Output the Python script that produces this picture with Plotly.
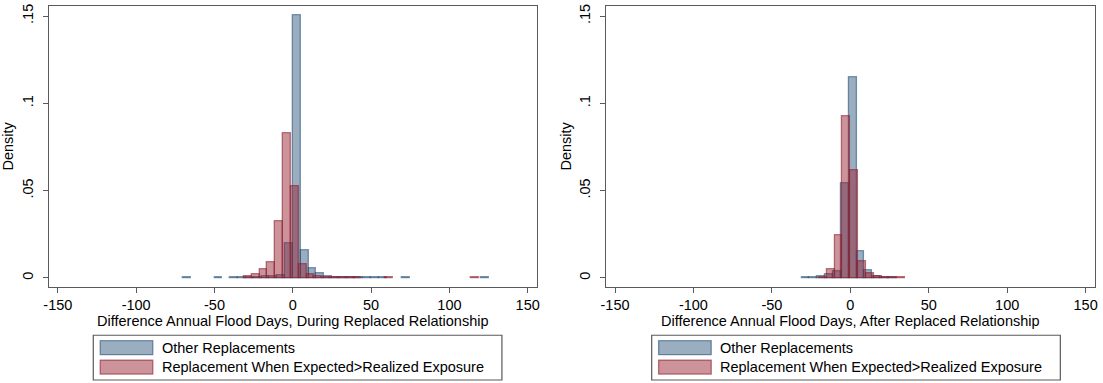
import plotly.graph_objects as go

# ---------------- data ----------------
BIN_W = 5.0

# Left panel: During replaced relationship
during_other_edges = [-70, -50, -40, -35, -30, -25, -20, -15, -10, -5, 0, 5, 10, 15, 20,
                      25, 30, 35, 40, 45, 50, 55, 70, 120]
during_other_dens = [0.0005, 0.0005, 0.0005, 0.0005, 0.0005, 0.0006, 0.0008, 0.0010, 0.0012,
                     0.0200, 0.1503, 0.0160, 0.0057, 0.0026, 0.0011, 0.0006, 0.0005, 0.0004,
                     0.0004, 0.0005, 0.0005, 0.0005, 0.0005, 0.0005]

during_exp_edges = [-31.25, -26.25, -21.25, -16.25, -11.25, -6.25, -1.25, 3.75, 8.75, 13.75,
                    18.75, 23.75, 28.75, 33.75, 38.75, 58.75, 113.75]
during_exp_dens = [0.0008, 0.0023, 0.0051, 0.0089, 0.0324, 0.0828, 0.0525, 0.0080, 0.0023,
                   0.0009, 0.0006, 0.0005, 0.0005, 0.0005, 0.0005, 0.0005, 0.0005]

# Right panel: After replaced relationship
after_other_edges = [-31, -26, -21, -16, -11, -6, -1, 4, 9, 14, 19, 24]
after_other_dens = [0.0004, 0.0004, 0.0008, 0.0023, 0.0040, 0.0541, 0.1150, 0.0150, 0.0042,
                    0.0010, 0.0005, 0.0004]

after_exp_edges = [-20, -15, -10, -5, 0, 5, 10, 15, 20, 25, 30]
after_exp_dens = [0.0006, 0.0051, 0.0245, 0.0925, 0.0619, 0.0097, 0.0025, 0.0008, 0.0004,
                  0.0004, 0.0004]

x_ticks = [-150, -100, -50, 0, 50, 100, 150]
x_ticktext = ["-150", "-100", "-50", "0", "50", "100", "150"]
y_ticks = [0, 0.05, 0.1, 0.15]
y_ticktext = ["0", ".05", ".1", ".15"]

series_names = ["Other Replacements", "Replacement When Expected>Realized Exposure"]
x_titles = ["Difference Annual Flood Days, During Replaced Relationship",
            "Difference Annual Flood Days, After Replaced Relationship"]

# ---------------- style ----------------
W, H = 1103, 383
FONT = "Liberation Sans, Arial, sans-serif"
FS = 14.5
BLUE_FILL = "rgba(26,71,111,0.44)"
BLUE_LINE = "rgba(26,71,111,0.55)"
RED_FILL = "rgba(150,30,45,0.48)"
RED_LINE = "rgba(140,30,45,0.60)"
FRAME = "#5a5a5a"


def centers(edges):
    return [e + BIN_W / 2 for e in edges]


fig = go.Figure()

panels = [
    ("x", "y", during_other_edges, during_other_dens, during_exp_edges, during_exp_dens),
    ("x2", "y2", after_other_edges, after_other_dens, after_exp_edges, after_exp_dens),
]
for xa, ya, oe, od, ee, ed in panels:
    fig.add_trace(go.Bar(x=centers(oe), y=od, width=[BIN_W] * len(oe), xaxis=xa, yaxis=ya,
                         name=series_names[0], showlegend=False,
                         marker=dict(color=BLUE_FILL, line=dict(color=BLUE_LINE, width=1.3))))
    fig.add_trace(go.Bar(x=centers(ee), y=ed, width=[BIN_W] * len(ee), xaxis=xa, yaxis=ya,
                         name=series_names[1], showlegend=False,
                         marker=dict(color=RED_FILL, line=dict(color=RED_LINE, width=1.3))))

x_dom = [[43.3 / W, 535 / W], [605 / W, 1097.5 / W]]
y_dom = [1 - 286 / H, 1 - 4.3 / H]

common_x = dict(range=[-155.7, 155.7], tickvals=x_ticks, ticktext=x_ticktext,
                ticks="outside", ticklen=5,
                tickcolor=FRAME, showline=True, mirror=True, linecolor=FRAME, linewidth=1.3,
                showgrid=False, zeroline=False, tickfont=dict(family=FONT, size=FS, color="black"))
common_y = dict(range=[-0.00496, 0.1556], tickvals=y_ticks, ticktext=y_ticktext,
                tickangle=-90, ticks="outside", ticklen=5, tickcolor=FRAME, showline=True,
                mirror=True, linecolor=FRAME, linewidth=1.3, showgrid=False, zeroline=False,
                ticklabelstandoff=4,
                tickfont=dict(family=FONT, size=FS, color="black"), domain=y_dom,
                title=dict(text="Density", font=dict(family=FONT, size=FS, color="black"),
                           standoff=2))

fig.update_layout(
    width=W, height=H, margin=dict(l=0, r=0, t=0, b=0),
    paper_bgcolor="white", plot_bgcolor="white", barmode="overlay", bargap=0,
    showlegend=False,
    xaxis=dict(common_x, domain=x_dom[0], anchor="y",
               title=dict(text=x_titles[0], font=dict(family=FONT, size=FS, color="black"),
                          standoff=0)),
    xaxis2=dict(common_x, domain=x_dom[1], anchor="y2",
                title=dict(text=x_titles[1], font=dict(family=FONT, size=FS, color="black"),
                           standoff=0)),
    yaxis=dict(common_y, anchor="x"),
    yaxis2=dict(common_y, anchor="x2"),
)

# ---------------- legends (drawn as boxes + text) ----------------
def px_x(v):
    return v / W


def px_y(v):
    return 1 - v / H


legend_left = [88, 651]
box_w = 412
box_top, box_bot = 335, 380
row_c = [347.5, 367]
sw_h = 14
for lx in legend_left:
    fig.add_shape(type="rect", xref="paper", yref="paper",
                  x0=px_x(lx), x1=px_x(lx + box_w), y0=px_y(box_bot), y1=px_y(box_top),
                  line=dict(color=FRAME, width=1.2), fillcolor="white", layer="above")
    for i, (fill, line) in enumerate([(BLUE_FILL, BLUE_LINE), (RED_FILL, RED_LINE)]):
        fig.add_shape(type="rect", xref="paper", yref="paper",
                      x0=px_x(lx + 7), x1=px_x(lx + 60),
                      y0=px_y(row_c[i] + sw_h / 2), y1=px_y(row_c[i] - sw_h / 2),
                      line=dict(color=line, width=1.3), fillcolor=fill, layer="above")
        fig.add_annotation(xref="paper", yref="paper", x=px_x(lx + 67), y=px_y(row_c[i]),
                           text=series_names[i], showarrow=False, xanchor="left",
                           yanchor="middle", font=dict(family=FONT, size=FS, color="black"))

fig.write_html("out.html")
